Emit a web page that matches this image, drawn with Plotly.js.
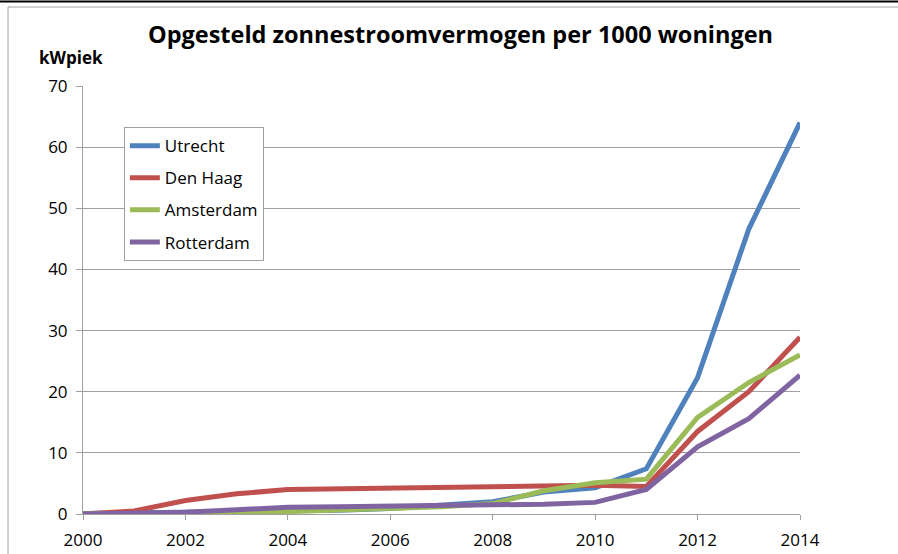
<!DOCTYPE html>
<html>
<head>
<meta charset="utf-8">
<script src="https://cdn.plot.ly/plotly-3.0.1.min.js"></script>
<style>
  body { margin: 0; background: #fff; }
  #plot { width: 898px; height: 554px; }
</style>
</head>
<body>
<div id="plot"></div>
<script>
var years = [2000, 2001, 2002, 2003, 2004, 2005, 2006, 2007, 2008, 2009, 2010, 2011, 2012, 2013, 2014];

var utrecht   = [0.1, 0.2, 0.3, 0.3, 0.3, 0.6, 0.9, 1.4, 2.0, 3.6, 4.3, 7.4, 22.3, 46.6, 64.0];
var denHaag   = [0.0, 0.5, 2.2, 3.3, 4.0, 4.1, 4.2, 4.3, 4.5, 4.5, 4.7, 4.5, 13.5, 20.0, 28.9];
var amsterdam = [0.0, 0.0, 0.1, 0.2, 0.4, 0.6, 0.9, 1.2, 1.7, 3.8, 5.1, 5.7, 15.8, 21.5, 26.0];
var rotterdam = [0.0, 0.1, 0.3, 0.7, 1.1, 1.2, 1.3, 1.3, 1.4, 1.6, 1.9, 4.0, 11.0, 15.6, 22.7];

var names  = ['Utrecht', 'Den Haag', 'Amsterdam', 'Rotterdam'];
var series = [utrecht, denHaag, amsterdam, rotterdam];
var colors = ['#4F81BD', '#C0504D', '#9BBB59', '#8064A2'];

var fontFam = 'Open Sans, DejaVu Sans, sans-serif';

var data = series.map(function(vals, i) {
  return {
    x: years,
    y: vals,
    name: names[i],
    legendgroup: 'g' + i,
    type: 'scatter',
    mode: 'lines',
    line: {color: colors[i], width: 5}
  };
});

var layout = {
  width: 898,
  height: 554,
  margin: {l: 83, r: 98, t: 86, b: 40},
  paper_bgcolor: '#fff',
  plot_bgcolor: '#fff',
  font: {family: fontFam, size: 17, color: '#000'},
  title: {
    text: '<b>Opgesteld zonnestroomvermogen per 1000 woningen</b>',
    font: {family: fontFam, size: 23.5, color: '#000'},
    x: 0.5265, xanchor: 'center', xref: 'paper',
    y: 0.937, yanchor: 'middle'
  },
  showlegend: true,
  legend: {
    x: 0.057, y: 0.904, xanchor: 'left', yanchor: 'top',
    bgcolor: '#fff', bordercolor: '#a0a0a0', borderwidth: 1,
    font: {family: fontFam, size: 17},
    traceorder: 'grouped', tracegroupgap: 7,
    itemwidth: 30
  },
  xaxis: {
    range: [2000, 2014],
    dtick: 2,
    tick0: 2000,
    showgrid: false,
    zeroline: false,
    showline: true,
    linecolor: '#a0a0a0',
    ticks: 'outside',
    ticklen: 5,
    tickcolor: '#a0a0a0',
    ticklabelstandoff: 6,
    tickfont: {size: 17}
  },
  yaxis: {
    range: [0, 70],
    dtick: 10,
    showgrid: true,
    gridcolor: '#a0a0a0',
    zeroline: false,
    showline: true,
    linecolor: '#a0a0a0',
    ticks: 'outside',
    ticklen: 6,
    tickcolor: '#a0a0a0',
    ticklabelstandoff: 5,
    tickfont: {size: 17}
  },
  annotations: [{
    text: '<b>kWpiek</b>',
    xref: 'paper', yref: 'paper',
    x: -0.064, y: 1.067, xanchor: 'left', yanchor: 'middle',
    showarrow: false,
    font: {family: fontFam, size: 17}
  }],
  shapes: [
    {type: 'line', xref: 'paper', yref: 'paper', x0: -0.2, x1: 1.2, y0: 1.1975, y1: 1.1975,
     line: {color: '#000', width: 2}},
    {type: 'line', xref: 'paper', yref: 'paper', x0: -0.1046, x1: 1.2, y0: 1.1846, y1: 1.1846,
     line: {color: '#a0a0a0', width: 1}},
    {type: 'line', xref: 'paper', yref: 'paper', x0: -0.1046, x1: -0.1046, y0: 1.1846, y1: -0.2,
     line: {color: '#a0a0a0', width: 1}}
  ]
};

Plotly.newPlot('plot', data, layout, {displayModeBar: false});
</script>
</body>
</html>
